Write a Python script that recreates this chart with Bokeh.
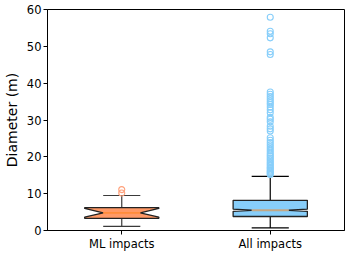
from bokeh.plotting import figure
from bokeh.models import Range1d, FixedTicker, ColumnDataSource
from bokeh.embed import file_html
from bokeh.resources import INLINE

categories = ["ML impacts", "All impacts"]
positions = [1, 2]
q1 = [3.3, 3.8]
median = [4.8, 5.5]
q3 = [6.2, 8.2]
notch_lo = [3.6, 5.2]
notch_hi = [6.0, 5.8]
whisker_lo = [1.1, 0.7]
whisker_hi = [9.5, 14.7]
ml_outliers = [10.2, 11.1]
all_outliers = [15.2, 15.5, 15.8, 16.1, 16.4, 16.8, 17.1, 17.5, 17.9, 18.3, 18.7,
                19.2, 19.6, 20.1, 20.5, 21.0, 21.6, 22.1, 22.7, 23.3, 23.9, 24.5,
                25.2, 27.0, 27.6, 28.3, 29.5, 30.2, 30.7, 32.0, 32.8, 33.5, 34.2,
                34.7, 35.2, 35.8, 36.4, 37.0, 37.6, 47.8, 48.5, 52.3, 53.4, 54.1, 57.9]
outliers = [ml_outliers, all_outliers]
fill_colors = ["#ff9966", "#87cefa"]
outlier_colors = ["#ffa07a", "#87cefa"]
whisker_colors = ["#3a3a3a", "#000000"]

FONT = "DejaVu Sans"
box_w = 0.5
cap_w = 0.25

p = figure(frame_width=297, frame_height=221, output_backend="svg", toolbar_location=None,
           x_range=Range1d(0.5, 2.5), y_range=Range1d(0, 60),
           min_border_left=34, min_border_right=1, min_border_top=9, min_border_bottom=0)
p.grid.visible = False
p.outline_line_color = "black"
p.outline_line_width = 1
p.background_fill_color = "white"
p.border_fill_color = "white"

for i, x in enumerate(positions):
    p.segment(x0=[x, x], y0=[whisker_lo[i], q3[i]], x1=[x, x], y1=[q1[i], whisker_hi[i]],
              line_color=whisker_colors[i], line_width=1.2)
    p.segment(x0=[x - cap_w / 2] * 2, y0=[whisker_lo[i], whisker_hi[i]],
              x1=[x + cap_w / 2] * 2, y1=[whisker_lo[i], whisker_hi[i]],
              line_color=whisker_colors[i], line_width=1.2)
    l = x - box_w / 2
    r = x + box_w / 2
    li = x - box_w / 4
    ri = x + box_w / 4
    xs = [l, r, r, ri, r, r, l, l, li, l]
    ys = [q1[i], q1[i], notch_lo[i], median[i], notch_hi[i], q3[i], q3[i], notch_hi[i], median[i], notch_lo[i]]
    p.patch(xs, ys, fill_color=fill_colors[i], line_color="#222222", line_width=1.3)
    p.segment(x0=[li], y0=[median[i]], x1=[ri], y1=[median[i]],
              line_color="#ff7f0e", line_alpha=0.5, line_width=1.8)
    src = ColumnDataSource(dict(x=[x] * len(outliers[i]), y=outliers[i]))
    p.scatter("x", "y", source=src, size=6, fill_color=None,
              line_color=outlier_colors[i], line_width=1.1)

p.xaxis.ticker = FixedTicker(ticks=positions)
p.xaxis.major_label_overrides = {positions[k]: categories[k] for k in range(2)}
p.yaxis.ticker = FixedTicker(ticks=[0, 10, 20, 30, 40, 50, 60])
p.yaxis.axis_label = "Diameter (m)"
for ax in (p.xaxis, p.yaxis):
    ax.axis_line_color = "black"
    ax.major_tick_line_color = "black"
    ax.major_tick_out = 4
    ax.major_tick_in = 0
    ax.minor_tick_line_color = None
    ax.major_label_text_font = FONT
    ax.major_label_text_font_size = "11.5px"
    ax.major_label_text_color = "black"
    ax.axis_label_text_font = FONT
    ax.axis_label_text_font_style = "normal"
    ax.axis_label_text_font_size = "14px"
    ax.axis_label_text_color = "black"
    ax.major_label_standoff = 2
p.yaxis.axis_label_standoff = 4
p.xaxis.axis_label_standoff = 0

open("out.html", "w").write(file_html(p, INLINE))
